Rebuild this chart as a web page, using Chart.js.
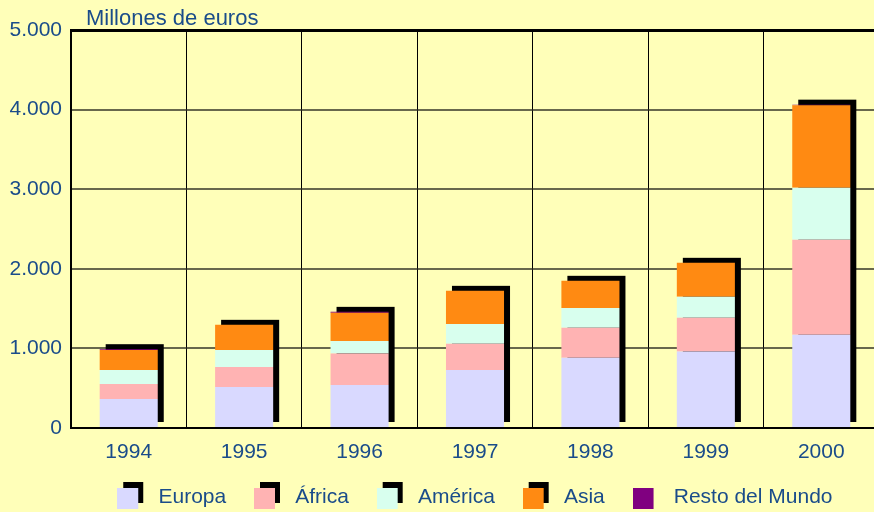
<!DOCTYPE html>
<html>
<head>
<meta charset="utf-8">
<script src="https://cdn.jsdelivr.net/npm/chart.js@4"></script>
<style>
  html, body { margin: 0; padding: 0; background: #FFFFB9; overflow: hidden; }
  #wrap { width: 880px; height: 512px; }
</style>
</head>
<body>
<div id="wrap"><canvas id="chart" width="880" height="512"></canvas></div>
<script>
const years = ['1994', '1995', '1996', '1997', '1998', '1999', '2000'];
const europa = [365, 516, 541, 730, 881, 960, 1170];
const africa = [188, 251, 394, 327, 377, 424, 1195];
const america = [177, 214, 159, 251, 251, 264, 654];
const asia = [250, 315, 353, 415, 340, 427, 1035];
const resto = [10, 0, 12, 0, 0, 0, 8];
const yTickLabels = ['0', '1.000', '2.000', '3.000', '4.000', '5.000'];

const textColor = '#1A4C8A';
const font = { family: '"Liberation Sans", Arial, sans-serif', size: 21 };

// legend square with the black "3D" shadow behind it
function makeMarker(color, shadow) {
  const c = document.createElement('canvas');
  c.width = 31; c.height = 35;
  const g = c.getContext('2d');
  if (shadow) {
    g.fillStyle = '#000';
    g.fillRect(6, 2, 20, 21);
  }
  g.fillStyle = color;
  g.fillRect(0, 8, 21, 21);
  return c;
}

const series = [
  { label: 'Europa', data: europa, color: '#D9D9FF', shadow: true },
  { label: 'África', data: africa, color: '#FFB3B3', shadow: true },
  { label: 'América', data: america, color: '#D8FFEE', shadow: true },
  { label: 'Asia', data: asia, color: '#FF8A12', shadow: true },
  { label: 'Resto del Mundo', data: resto, color: '#800080', shadow: false }
];
const markers = series.map(s => makeMarker(s.color, s.shadow));

// black block behind each stacked column
const barShadow = {
  id: 'barShadow',
  beforeDatasetsDraw(chart) {
    const ctx = chart.ctx;
    const metas = chart.getSortedVisibleDatasetMetas();
    ctx.save();
    ctx.fillStyle = '#000';
    years.forEach((_, i) => {
      let top = Infinity, base = 0, x = 0, w = 0;
      metas.forEach(m => {
        const el = m.data[i];
        if (!el) return;
        top = Math.min(top, el.y, el.base);
        base = Math.max(base, el.base);
        x = el.x; w = el.width;
      });
      ctx.fillRect(x - w / 2 + 6, top - 5, w, base - top);
    });
    ctx.restore();
  }
};

const unitTitle = {
  id: 'unitTitle',
  afterDraw(chart) {
    const ctx = chart.ctx;
    ctx.save();
    ctx.fillStyle = textColor;
    ctx.font = `22px ${font.family}`;
    ctx.textBaseline = 'alphabetic';
    ctx.fillText('Millones de euros', 86, 25);
    ctx.restore();
  }
};

new Chart(document.getElementById('chart'), {
  type: 'bar',
  data: {
    labels: years,
    datasets: series.map(s => ({
      label: s.label,
      data: s.data,
      backgroundColor: s.color,
      borderWidth: 0,
      barPercentage: 0.503,
      categoryPercentage: 1
    }))
  },
  options: {
    responsive: false,
    animation: false,
    events: [],
    layout: { padding: { top: 30, right: 1, left: 0, bottom: -6 } },
    plugins: {
      tooltip: { enabled: false },
      legend: {
        position: 'bottom',
        fullSize: false,
        labels: {
          usePointStyle: true,
          pointStyleWidth: 30.5,
          padding: 28,
          color: textColor,
          font: font,
          generateLabels(chart) {
            const items = Chart.defaults.plugins.legend.labels.generateLabels(chart);
            items.forEach((it, i) => { it.pointStyle = markers[i]; });
            return items;
          }
        }
      }
    },
    scales: {
      x: {
        stacked: true,
        grid: { color: '#000', lineWidth: 1, drawTicks: false },
        border: { color: '#000', width: 2 },
        // mirror only to keep the labels from being clipped to the short axis box
        ticks: { color: textColor, font: font, mirror: true, padding: -37 },
        afterFit(scale) { scale.height = 31; }
      },
      y: {
        stacked: true,
        min: 0,
        max: 5000,
        grid: {
          drawTicks: false,
          color: ctx => ctx.tick && ctx.tick.value === 5000 ? '#000' : 'rgba(40,40,30,0.7)',
          lineWidth: ctx => ctx.tick && ctx.tick.value === 5000 ? 3 : 2
        },
        border: { color: '#000', width: 2 },
        ticks: {
          stepSize: 1000,
          color: textColor,
          font: font,
          padding: 9,
          callback: v => yTickLabels[v / 1000]
        },
        afterFit(scale) { scale.width = 71; }
      }
    }
  },
  plugins: [barShadow, unitTitle]
});
</script>
</body>
</html>
